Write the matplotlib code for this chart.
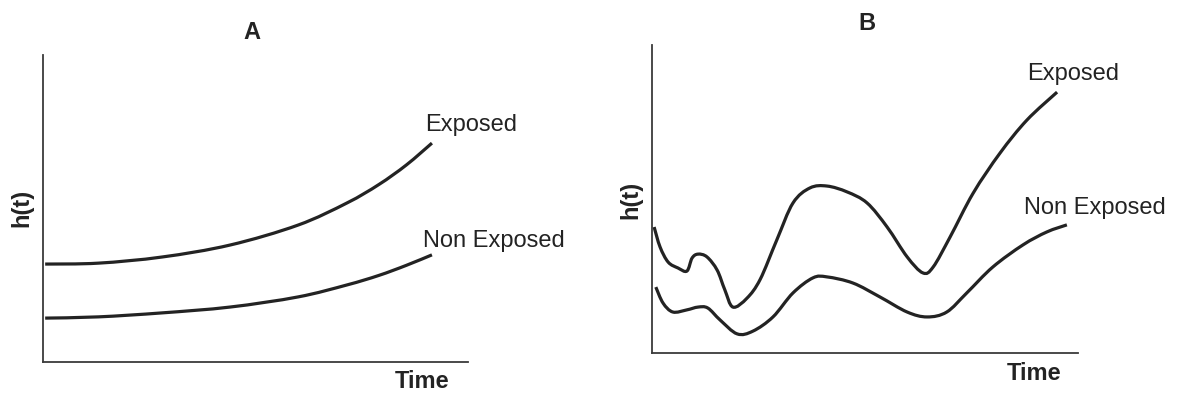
import matplotlib
matplotlib.use("Agg")
import matplotlib.pyplot as plt
from matplotlib.path import Path
from matplotlib.patches import PathPatch

plt.rcParams["font.family"] = ["Liberation Sans", "DejaVu Sans"]

INK = "#232323"

# Panel A: proportional hazards, smooth monotone increase
a_time = [0.5, 13, 28, 44, 60, 71.5, 79, 85.5, 91.5]
a_exposed = [31.9, 32.2, 34.2, 38.1, 44.6, 51.8, 57.8, 64.2, 71.3]
a_non_exposed = [14.3, 14.7, 16.0, 17.9, 21.2, 25.1, 28.2, 31.5, 34.9]

# Panel B: hazards that wander but keep a constant ratio
b_exp_time = [0.5, 1.9, 3.8, 6.1, 8.2, 9.4, 10.8, 12.9, 15.3, 17.1, 19.0,
              22.3, 25.4, 29.3, 33.1, 37.1, 41.1, 45.8, 50.5, 55.2, 59.9,
              63.6, 66.0, 70.0, 75.4, 81.7, 88.0, 95.1]
b_exposed = [40.9, 34.4, 29.5, 27.6, 26.6, 30.8, 32.1, 31.2, 26.9, 20.5, 14.9,
             17.8, 23.9, 36.7, 48.7, 53.6, 54.2, 52.3, 48.7, 40.9, 31.2,
             26.0, 27.9, 37.7, 51.9, 64.9, 75.6, 84.7]
b_non_time = [0.9, 2.6, 4.9, 8.2, 10.8, 13.1, 16.0, 20.0, 23.7, 28.4, 33.1,
              37.8, 41.1, 47.2, 53.5, 59.9, 64.6, 69.2, 73.9, 80.0, 87.1,
              92.7, 97.4]
b_non_exposed = [21.4, 16.2, 13.3, 14.0, 14.9, 14.6, 10.7, 6.2, 7.1, 11.7, 19.5,
                 24.4, 24.7, 22.7, 18.2, 13.3, 11.7, 13.3, 19.5, 27.9, 35.1,
                 39.3, 41.6]


def smooth_path(xs, ys):
    """Cubic Bezier path passing through every (x, y) point (Catmull-Rom handles)."""
    pts = list(zip(xs, ys))
    verts = [pts[0]]
    codes = [Path.MOVETO]
    n = len(pts)
    for i in range(n - 1):
        p0 = pts[i - 1] if i > 0 else pts[i]
        p1, p2 = pts[i], pts[i + 1]
        p3 = pts[i + 2] if i + 2 < n else pts[i + 1]
        c1 = (p1[0] + (p2[0] - p0[0]) / 6, p1[1] + (p2[1] - p0[1]) / 6)
        c2 = (p2[0] - (p3[0] - p1[0]) / 6, p2[1] - (p3[1] - p1[1]) / 6)
        verts += [c1, c2, p2]
        codes += [Path.CURVE4] * 3
    return Path(verts, codes)


panels = [
    dict(rect=[0.0365, 0.0812, 0.3605, 0.7792], letter="A",
         exp=(a_time, a_exposed), non=(a_time, a_non_exposed),
         exp_label=(89.9, 77.2), non_label=(89.4, 39.4),
         letter_xy=(0.492, 1.072), time_xy=(0.892, -0.065), h_xy=(-0.049, 0.502)),
    dict(rect=[0.5530, 0.1041, 0.3613, 0.7817], letter="B",
         exp=(b_exp_time, b_exposed), non=(b_non_time, b_non_exposed),
         exp_label=(88.0, 90.6), non_label=(87.3, 47.1),
         letter_xy=(0.505, 1.071), time_xy=(0.897, -0.065), h_xy=(-0.049, 0.497)),
]

fig = plt.figure(figsize=(11.79, 3.94), dpi=100)
fig.patch.set_facecolor("white")

for p in panels:
    ax = fig.add_axes(p["rect"])
    ax.set_xlim(0, 100)
    ax.set_ylim(0, 100)
    for side in ("top", "right"):
        ax.spines[side].set_visible(False)
    for side in ("left", "bottom"):
        ax.spines[side].set_color("#3a3a3a")
        ax.spines[side].set_linewidth(1.3)
    ax.set_xticks([])
    ax.set_yticks([])

    for xs, ys in (p["exp"], p["non"]):
        ax.add_patch(PathPatch(smooth_path(xs, ys), facecolor="none",
                               edgecolor=INK, lw=2.3, joinstyle="round",
                               capstyle="butt", clip_on=False))

    ax.text(*p["exp_label"], "Exposed", fontsize=17, color=INK,
            ha="left", va="center")
    ax.text(*p["non_label"], "Non Exposed", fontsize=17, color=INK,
            ha="left", va="center")

    ax.text(*p["letter_xy"], p["letter"], transform=ax.transAxes,
            fontsize=17, fontweight="bold", color=INK, ha="center", va="center")
    ax.text(*p["time_xy"], "Time", transform=ax.transAxes,
            fontsize=17, fontweight="bold", color=INK, ha="center", va="center")
    ax.text(*p["h_xy"], "h(t)", transform=ax.transAxes, rotation=90,
            fontsize=17, fontweight="bold", color=INK, ha="center", va="center")

fig.savefig("out.png", dpi=100, facecolor="white")
